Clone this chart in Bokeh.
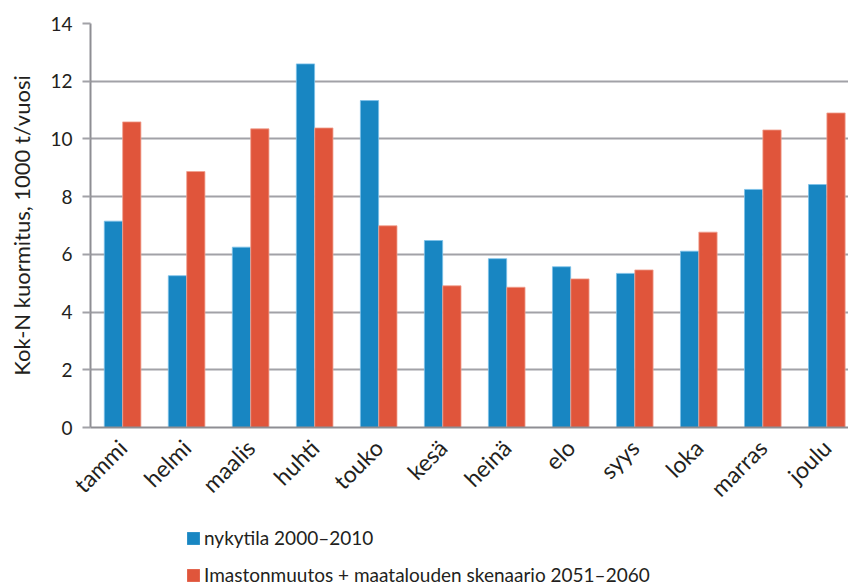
import numpy as np
from bokeh.plotting import figure
from bokeh.layouts import column
from bokeh.models import Range1d, FixedTicker, Legend, LegendItem, ColumnDataSource
from bokeh.transform import dodge
from bokeh.embed import file_html
from bokeh.resources import INLINE

months = ["tammi", "helmi", "maalis", "huhti", "touko", "kesä", "heinä", "elo", "syys", "loka", "marras", "joulu"]
nykytila = [7.15, 5.26, 6.25, 12.6, 11.33, 6.48, 5.85, 5.57, 5.34, 6.11, 8.25, 8.42]
skenaario = [10.59, 8.87, 10.35, 10.38, 6.99, 4.91, 4.86, 5.15, 5.46, 6.77, 10.31, 10.9]
y_ticks = [0, 2, 4, 6, 8, 10, 12, 14]
series_labels = ["nykytila 2000–2010", "Imastonmuutos + maatalouden skenaario 2051–2060"]
y_label = "Kok-N kuormitus, 1000 t/vuosi"

FONT = "Lato"
TXT = "#231f20"
BLUE = "#1886c2"
RED = "#e0553b"

idx = np.arange(len(months))
src = ColumnDataSource(dict(x=idx, a=nykytila, b=skenaario))

p = figure(width=848, height=514, frame_width=758, frame_height=404,
           output_backend="svg", toolbar_location=None,
           x_range=Range1d(-0.5, 11.34), y_range=Range1d(0, 14),
           min_border_left=90, min_border_right=0, min_border_top=23, min_border_bottom=87)
p.outline_line_color = None

w = 0.285
bar_kw = dict(line_width=1, line_alpha=0.8)
r1 = p.vbar(x=dodge("x", -0.142), top="a", width=w, source=src, fill_color=BLUE,
            line_color="#7cc0e8", **bar_kw)
r2 = p.vbar(x=dodge("x", 0.145), top="b", width=w, source=src, fill_color=RED,
            line_color="#f0a090", **bar_kw)

p.xgrid.grid_line_color = None
p.ygrid.grid_line_color = "#a2a2a7"
p.ygrid.grid_line_width = 2
p.yaxis.ticker = FixedTicker(ticks=y_ticks)
p.xaxis.ticker = FixedTicker(ticks=[int(i) for i in idx])
p.xaxis.major_label_overrides = {int(i): m for i, m in zip(idx, months)}
p.xaxis.major_label_orientation = np.pi / 4

for ax in (p.xaxis[0], p.yaxis[0]):
    ax.axis_line_color = "#8e8e93"
    ax.axis_line_width = 2
    ax.major_label_text_font = FONT
    ax.major_label_text_color = TXT
    ax.minor_tick_line_color = None
p.xaxis.major_tick_line_color = None
p.xaxis.major_label_text_font_size = "23px"
p.xaxis.major_label_standoff = 10
p.yaxis.major_tick_line_color = "#a2a2a7"
p.yaxis.major_tick_line_width = 2
p.yaxis.major_tick_out = 8
p.yaxis.major_tick_in = 0
p.yaxis.major_label_text_font_size = "19px"
p.yaxis.major_label_standoff = 10
p.yaxis.axis_label = y_label
p.yaxis.axis_label_text_font = FONT
p.yaxis.axis_label_text_font_style = "normal"
p.yaxis.axis_label_text_font_size = "22px"
p.yaxis.axis_label_text_color = TXT
p.yaxis.axis_label_standoff = 12

# legend strip below the chart; its proxy bars have zero width and lie outside its view
q = figure(width=848, height=72, output_backend="svg", toolbar_location=None,
           x_axis_type=None, y_axis_type=None,
           x_range=Range1d(-0.5, 11.34), y_range=Range1d(-2, -1),
           min_border=0)
q.outline_line_color = None
q.grid.grid_line_color = None
l1 = q.vbar(x="x", top="a", width=0, source=src, fill_color=BLUE, line_color=None)
l2 = q.vbar(x="x", top="b", width=0, source=src, fill_color=RED, line_color=None)
legend = Legend(items=[LegendItem(label=series_labels[0], renderers=[l1]),
                       LegendItem(label=series_labels[1], renderers=[l2])],
                location=(95, 0), orientation="vertical")
legend.label_text_font = FONT
legend.label_text_font_size = "19px"
legend.label_text_color = TXT
legend.glyph_width = 16
legend.glyph_height = 16
legend.label_height = 22
legend.spacing = 14
legend.padding = 0
legend.margin = 0
legend.border_line_color = None
legend.background_fill_alpha = 0
legend.label_standoff = 3
q.add_layout(legend, "center")

layout = column(p, q, spacing=0)
open("out.html", "w").write(file_html(layout, INLINE))
